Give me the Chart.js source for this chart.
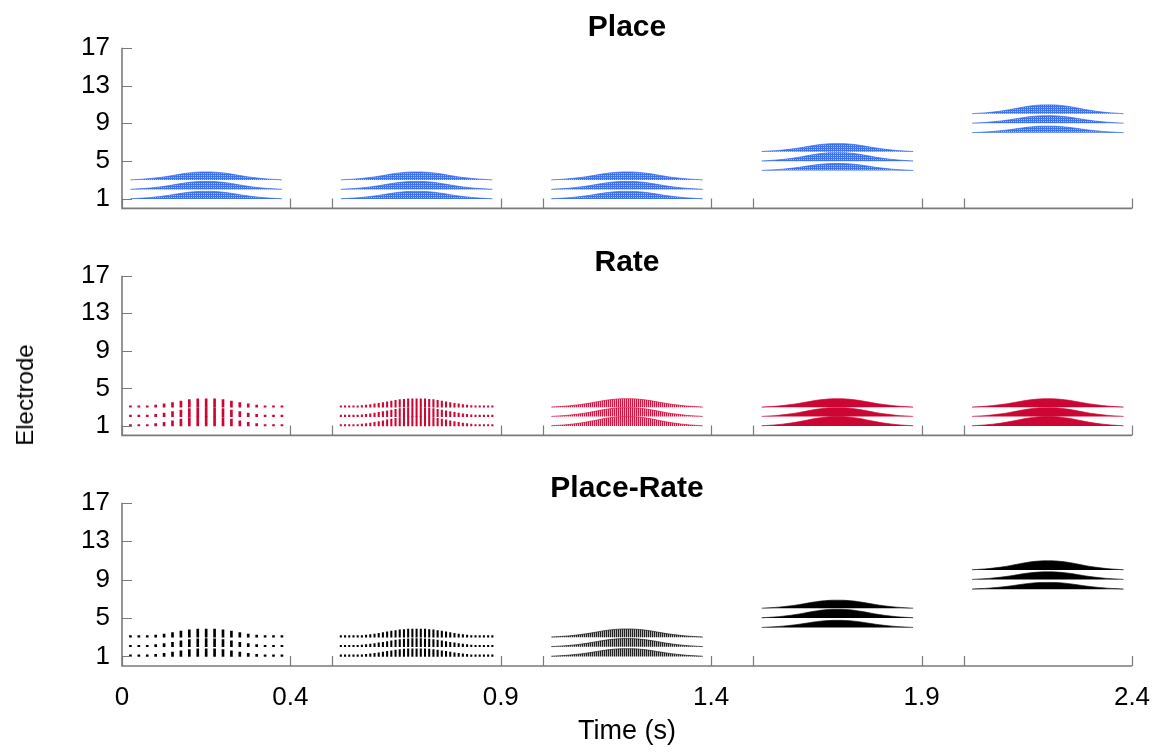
<!DOCTYPE html>
<html lang="en">
<head>
    <meta charset="UTF-8">
    <title>Place / Rate / Place-Rate</title>
    <script src="https://cdn.jsdelivr.net/npm/chart.js"></script>
    <style>
        body { margin: 0; background: #fff; }
        #wrap { position: relative; width: 1167px; height: 752px; }
        canvas { position: absolute; left: 0; }
        .ylab {
            position: absolute; left: 25px; top: 395px;
            transform: translate(-50%, -50%) rotate(-90deg);
            font: 24px "Liberation Sans", Arial, sans-serif; color: #000;
            white-space: nowrap;
        }
    </style>
</head>
<body>
<div id="wrap">
    <canvas id="c0" width="1167" height="228" style="top:0px"></canvas>
    <canvas id="c1" width="1167" height="227" style="top:228px"></canvas>
    <canvas id="c2" width="1167" height="297" style="top:455px"></canvas>
    <div class="ylab">Electrode</div>
</div>
<script>
    // axes
    const X_LABELS = [0, 0.4, 0.9, 1.4, 1.9, 2.4];
    const X_MARKS = [0, 0.4, 0.5, 0.9, 1.0, 1.4, 1.5, 1.9, 2.0, 2.4];
    const Y_TICKS = [1, 5, 9, 13, 17];

    // stimuli: onset of each 0.4 s pulse train
    const STIM_START = [0, 0.5, 1.0, 1.5, 2.0];

    // pulse amplitude envelope, sampled every 10 ms over one 0.4 s stimulus (0..1)
    const ENV_STEP = 0.01;
    const ENV = [0, 0, 0.02, 0.05, 0.08, 0.11, 0.15, 0.2, 0.26, 0.32, 0.39, 0.47, 0.56, 0.65, 0.74,
                 0.82, 0.89, 0.94, 0.98, 1.0, 1.0, 1.0, 0.98, 0.94, 0.89, 0.82, 0.74, 0.65, 0.56,
                 0.47, 0.39, 0.32, 0.26, 0.2, 0.15, 0.11, 0.08, 0.05, 0.02, 0, 0];

    // electrodes used by each stimulus
    const PLACE_ELEC = [[1, 2, 3], [1, 2, 3], [1, 2, 3], [4, 5, 6], [8, 9, 10]];
    const RATE_ELEC = [[1, 2, 3], [1, 2, 3], [1, 2, 3], [1, 2, 3], [1, 2, 3]];

    // peak pulse height per electrode (electrode units)
    const PLACE_AMP = [[0.8, 0.85, 0.85], [0.8, 0.85, 0.85], [0.8, 0.85, 0.85], [0.75, 0.9, 0.85], [0.7, 0.8, 0.95]];
    const RATE_AMP = [[1.0, 0.95, 0.9], [1.0, 0.95, 0.9], [1.0, 0.95, 0.9], [1.0, 0.95, 0.9], [1.0, 0.95, 0.9]];

    // pulse rate (pulses/s) of each stimulus
    const PLACE_PPS = [250, 250, 250, 250, 250];
    const RATE_PPS = [50, 100, 250, 1000, 1000];

    const FONT = '"Liberation Sans", Arial, sans-serif';
    const AXIS_COLOR = '#7a7a7a';

    function makePattern(dark, light, grid) {
        const c = document.createElement('canvas');
        c.width = 2; c.height = 2;
        const g = c.getContext('2d');
        g.fillStyle = light; g.fillRect(0, 0, 2, 2);
        g.fillStyle = dark; g.fillRect(0, 0, 1, 2);
        if (grid) g.fillRect(1, 0, 1, 1);
        return g.createPattern(c, 'repeat');
    }

    const BLUE = { solid: 'rgb(55,110,240)', edge: 'rgba(45,100,238,0.9)', pattern: makePattern('rgb(60,115,242)', 'rgb(165,190,250)', true) };
    const RED = { solid: 'rgb(205,5,50)', edge: 'rgba(205,5,50,0.85)', pattern: makePattern('rgb(210,20,65)', 'rgb(245,175,195)', false) };
    const BLACK = { solid: '#000', edge: 'rgba(20,20,20,0.85)', pattern: makePattern('#222', '#b0b0b0', false) };

    function buildDatasets(elec, amp, pps, col) {
        const sets = [];
        STIM_START.forEach((t0, s) => {
            elec[s].forEach((e, k) => {
                const a = amp[s][k];
                if (pps[s] <= 100) {
                    // individual pulses, picked from the 10 ms envelope samples
                    const stride = Math.round(100 / pps[s]);
                    const pts = [];
                    for (let i = 0; i < ENV.length - 1; i += stride) {
                        if (ENV[i] > 0) pts.push({ x: t0 + i * ENV_STEP, y: [e, e + a * ENV[i]] });
                    }
                    sets.push({
                        type: 'bar', data: pts, backgroundColor: col.solid,
                        barThickness: pps[s] <= 50 ? 2 : 1.4, minBarLength: 1.5
                    });
                } else {
                    // pulses too dense to resolve: draw the envelope as a filled band
                    const pts = [];
                    ENV.forEach((v, i) => { if (v > 0) pts.push({ x: t0 + i * ENV_STEP, y: e + a * v }); });
                    sets.push({
                        type: 'line', data: pts,
                        borderColor: col.edge, borderWidth: 0.8, pointRadius: 0,
                        fill: { value: e },
                        backgroundColor: pps[s] >= 500 ? col.solid : col.pattern
                    });
                }
            });
        });
        return sets;
    }

    const axesPlugin = {
        id: 'matlabAxes',
        afterDatasetsDraw(chart) {
            const { ctx, scales: { x, y } } = chart;
            const x0 = x.getPixelForValue(0), x1 = x.getPixelForValue(2.4);
            const y0 = y.getPixelForValue(0), y1 = y.getPixelForValue(17);
            ctx.save();
            ctx.strokeStyle = AXIS_COLOR;
            ctx.lineWidth = 1.6;
            ctx.beginPath();
            ctx.moveTo(x0, y1); ctx.lineTo(x0, y0); ctx.lineTo(x1, y0);
            ctx.stroke();
            ctx.lineWidth = 1.2;
            ctx.beginPath();
            X_MARKS.forEach(v => {
                const px = Math.round(x.getPixelForValue(v)) + 0.5;
                ctx.moveTo(px, y0); ctx.lineTo(px, y0 - 10);
            });
            Y_TICKS.forEach(v => {
                const py = Math.round(y.getPixelForValue(v)) + 0.5;
                ctx.moveTo(x0, py); ctx.lineTo(x0 + 10, py);
            });
            ctx.stroke();
            ctx.restore();
        }
    };

    function makePanel(id, title, datasets, showX, padBottom, titlePad) {
        new Chart(document.getElementById(id), {
            type: 'bar',
            data: { datasets },
            options: {
                responsive: false,
                animation: false,
                devicePixelRatio: 1,
                events: [],
                datasets: { bar: { grouped: false, borderWidth: 0 } },
                layout: { autoPadding: false, padding: { left: 0, right: 35, top: 0, bottom: padBottom } },
                plugins: {
                    legend: { display: false },
                    tooltip: { enabled: false },
                    title: {
                        display: true, text: title, fullSize: false, color: '#000',
                        font: { family: FONT, size: 30, weight: 'bold', lineHeight: 1.0 },
                        padding: titlePad
                    }
                },
                scales: {
                    x: {
                        type: 'linear', min: 0, max: 2.4, offset: false, display: showX,
                        grid: { display: false }, border: { display: false },
                        afterBuildTicks: s => { s.ticks = X_LABELS.map(v => ({ value: v })); },
                        afterFit: s => { s.height = showX ? 86 : 0; },
                        ticks: {
                            color: '#000', padding: 8, maxRotation: 0, autoSkip: false,
                            font: { family: FONT, size: 26 },
                            callback: v => String(v)
                        },
                        title: {
                            display: true, text: 'Time (s)', color: '#000',
                            font: { family: FONT, size: 27 }, padding: { top: 0, bottom: 4 }
                        }
                    },
                    y: {
                        min: 0, max: 17,
                        grid: { display: false }, border: { display: false },
                        afterBuildTicks: s => { s.ticks = Y_TICKS.map(v => ({ value: v })); },
                        afterFit: s => { s.width = 122; },
                        ticks: { color: '#000', padding: 4, autoSkip: false, font: { family: FONT, size: 26 } }
                    }
                }
            },
            plugins: [axesPlugin]
        });
    }

    makePanel('c0', 'Place', buildDatasets(PLACE_ELEC, PLACE_AMP, PLACE_PPS, BLUE), false, 16.7, { top: 13, bottom: 4.7 });
    makePanel('c1', 'Rate', buildDatasets(RATE_ELEC, RATE_AMP, RATE_PPS, RED), false, 16, { top: 20, bottom: -2.3 });
    makePanel('c2', 'Place-Rate', buildDatasets(PLACE_ELEC, PLACE_AMP, RATE_PPS, BLACK), true, 0, { top: 19, bottom: -1.3 });
</script>
</body>
</html>
